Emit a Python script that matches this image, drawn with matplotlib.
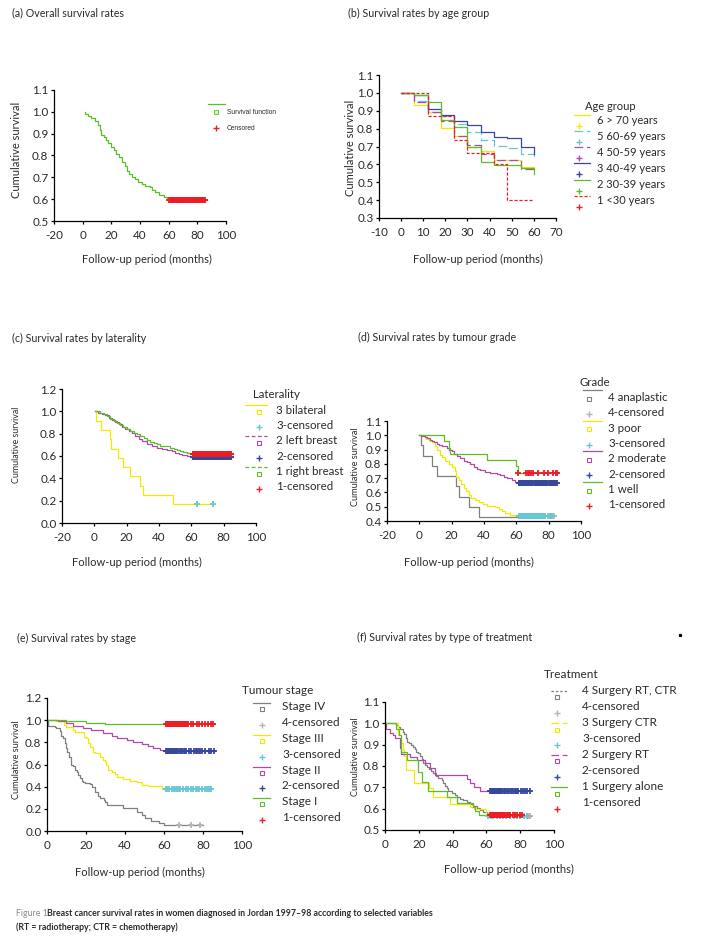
"""Breast cancer survival rates (Jordan 1997-98) - six Kaplan-Meier panels."""

import matplotlib

matplotlib.use("Agg")

import matplotlib.pyplot as plt

plt.rcParams["font.family"] = ["Lato", "DejaVu Sans"]
plt.rcParams["axes.unicode_minus"] = False

W, H = 706, 939
TXT = "#2a2a2a"

GREEN = "#5cbf2a"
RED = "#ee1c24"
YELLOW = "#f2ea00"
CYAN = "#66c6d6"
MAGENTA = "#b049a8"
BLUE = "#36489c"
GRAY = "#7f7f7f"
LGRAY = "#b4b4b4"

# (a) overall
A_T = [1.5, 1.9, 3.7, 6, 7.7, 8.8, 10.5, 12, 13, 14.6, 16.3, 18, 20, 21.6, 23, 25, 27.4, 29.3,
       31, 32.6, 34.4, 36.3, 38.6, 41.4, 43.7, 47.2, 48.4, 50.7, 53.5, 56.5, 58.8, 60]
A_S = [1.0, 0.988, 0.98, 0.974, 0.97, 0.958, 0.94, 0.915, 0.895, 0.885, 0.872, 0.857, 0.838, 0.826,
       0.808, 0.792, 0.772, 0.754, 0.731, 0.715, 0.70, 0.692, 0.68, 0.669, 0.662, 0.657, 0.643,
       0.631, 0.62, 0.611, 0.603, 0.597]
A_CENS = [60.5, 61.0, 61.5, 62.0, 62.5, 63.0, 63.5, 64.0, 64.5, 65.0, 65.5, 66.0, 66.5, 67.0, 67.5,
          68.0, 68.5, 69.0, 69.5, 70.0, 70.5, 71.0, 71.5, 72.0, 72.5, 73.0, 73.5, 74.0, 74.5, 75.0,
          75.5, 76.0, 76.5, 77.0, 77.5, 78.0, 78.5, 79.0, 79.5, 80.0, 80.5, 81.0, 81.5, 82.0, 82.5,
          83.0, 83.5, 84.0, 84.5, 85.0]

# (b) age group, life-table intervals
B_T = [0, 6, 12, 18, 24, 30, 36, 42, 48, 54, 60]
B_70 = [1.0, 0.933, 0.893, 0.805, 0.76, 0.70, 0.675, 0.625, 0.625, 0.585, 0.58]
B_60 = [1.0, 0.955, 0.893, 0.87, 0.828, 0.783, 0.735, 0.705, 0.69, 0.66, 0.625]
B_50 = [1.0, 0.95, 0.895, 0.84, 0.76, 0.71, 0.66, 0.622, 0.622, 0.573, 0.56]
B_40 = [1.0, 0.99, 0.91, 0.875, 0.845, 0.82, 0.78, 0.755, 0.745, 0.70, 0.66]
B_30 = [1.0, 0.99, 0.95, 0.85, 0.81, 0.695, 0.615, 0.595, 0.595, 0.58, 0.545]
B_U30 = [1.0, 1.0, 0.87, 0.87, 0.735, 0.665, 0.665, 0.6, 0.4, 0.4, 0.4]
B_LABELS = ["6 > 70 years", "5 60-69 years", "4 50-59 years", "3 40-49 years",
            "2 30-39 years", "1 <30 years"]

# (c) laterality
C3_T = [0.8, 1.0, 3.9, 9.5, 10.5, 14.6, 17.5, 21.9, 28.5, 30.1, 48.5]
C3_S = [1.0, 0.917, 0.833, 0.75, 0.667, 0.583, 0.5, 0.417, 0.333, 0.25, 0.167]
C3_CENS = [63.3, 73.6]
C2_T = [0.6, 2.1, 4.7, 6.8, 8.9, 10.9, 13, 15, 17.1, 19.2, 21.2, 23.3, 25.4, 27.4, 29.5, 32.6, 35.7,
        38.8, 41.9, 45, 48, 50, 52.2, 54.2, 57.3, 59.4]
C2_S = [1.0, 0.985, 0.978, 0.967, 0.943, 0.92, 0.9, 0.884, 0.863, 0.845, 0.824, 0.803, 0.78, 0.755,
        0.734, 0.704, 0.69, 0.675, 0.66, 0.654, 0.645, 0.624, 0.615, 0.606, 0.603, 0.595]
C1_T = [0.6, 3.7, 5.8, 7.8, 9.9, 12, 14, 16, 18, 20.2, 22.3, 24.3, 26.4, 28.5, 30.5, 32.6, 34.6,
        36.7, 38.8, 40.8, 45, 47, 49, 51, 53.2, 55, 57.3, 59.4]
C1_S = [1.0, 0.988, 0.98, 0.958, 0.934, 0.913, 0.892, 0.875, 0.86, 0.845, 0.824, 0.81, 0.794, 0.78,
        0.764, 0.74, 0.728, 0.713, 0.704, 0.69, 0.686, 0.675, 0.666, 0.654, 0.645, 0.636, 0.63, 0.615]
C_BAND = [60.8, 61.3, 61.8, 62.3, 62.8, 63.3, 63.8, 64.3, 64.8, 65.3, 65.8, 66.3, 66.8, 67.3, 67.8,
          68.3, 68.8, 69.3, 69.8, 70.3, 70.8, 71.3, 71.8, 72.3, 72.8, 73.3, 73.8, 74.3, 74.8, 75.3,
          75.8, 76.3, 76.8, 77.3, 77.8, 78.3, 78.8, 79.3, 79.8, 80.3, 80.8, 81.3, 81.8, 82.3, 82.8,
          83.3, 83.8, 84.3, 84.8]
C_LABELS = ["3 bilateral", "3-censored", "2 left breast", "2-censored", "1 right breast", "1-censored"]

# (d) tumour grade
D4_T = [1.0, 1.05, 2.1, 7.8, 10.7, 22.5, 24.7, 30.5, 36.7]
D4_S = [1.0, 0.929, 0.857, 0.786, 0.714, 0.643, 0.571, 0.5, 0.429]
D3_T = [0, 3.3, 4.1, 5.8, 7.8, 9.5, 10.9, 12.6, 14, 16.1, 18.1, 20.2, 21.9, 22.7, 24.3, 26, 27.4,
        28.9, 30.5, 32.2, 34.2, 36.7, 39.2, 41.9, 47, 49, 51.1, 53.2, 56.3, 59.4, 60.4]
D3_S = [1.0, 0.988, 0.977, 0.963, 0.953, 0.923, 0.895, 0.865, 0.847, 0.823, 0.800, 0.777, 0.749,
        0.707, 0.684, 0.660, 0.633, 0.609, 0.581, 0.558, 0.544, 0.533, 0.521, 0.505, 0.498, 0.484,
        0.467, 0.453, 0.444, 0.435, 0.433]
D2_T = [0, 1, 3.7, 4.7, 6.8, 7.8, 8.9, 10.9, 12, 14, 17.1, 18.1, 20.2, 21.2, 23.3, 25.4, 27.4, 29.5,
        31.5, 33.6, 35.7, 37.7, 40.8, 43.9, 48, 50, 52.2, 54.2, 57.3, 59.4, 60.4]
D2_S = [1.0, 0.993, 0.988, 0.981, 0.970, 0.963, 0.953, 0.942, 0.930, 0.923, 0.912, 0.900, 0.888,
        0.872, 0.853, 0.842, 0.823, 0.812, 0.800, 0.777, 0.765, 0.756, 0.744, 0.737, 0.730, 0.721,
        0.709, 0.698, 0.686, 0.674, 0.667]
D1_T = [0, 15.3, 18.1, 19.2, 41.9, 60, 60.8]
D1_S = [1.0, 0.957, 0.913, 0.870, 0.826, 0.783, 0.739]
D1_CENS = [61.2, 66.2, 67.0, 67.6, 69.2, 70.0, 73.6, 77.1, 79.8, 82.5, 84.5, 85.2]
D2_CENS = [61.4, 61.9, 62.4, 62.9, 63.4, 63.9, 64.4, 64.9, 65.4, 65.9, 66.4, 66.9, 67.4, 67.9, 68.4,
           68.9, 69.4, 69.8, 71.2, 71.7, 72.2, 72.7, 73.2, 73.7, 74.2, 74.7, 75.2, 75.7, 76.2, 76.7,
           77.2, 77.7, 78.2, 78.7, 79.0, 80.2, 80.7, 81.2, 81.7, 82.2, 82.7, 83.2, 83.7, 84.2, 84.7,
           85.1]
D3_CENS = [61.4, 61.9, 62.4, 62.9, 63.4, 63.9, 64.4, 64.9, 65.4, 65.9, 66.4, 66.9, 67.4, 67.9, 68.4,
           68.9, 69.4, 69.9, 70.4, 70.9, 71.4, 71.9, 72.4, 72.9, 73.4, 73.9, 74.4, 74.9, 75.4, 75.9,
           76.4, 76.9, 77.4, 78.0, 79.4, 80.6, 81.2, 82.0]
D4_CENS = [83.5]
D_LABELS = ["4 anaplastic", "4-censored", "3 poor", "3-censored", "2 moderate", "2-censored",
            "1 well", "1-censored"]

# (e) stage
E4_T = [0, 0.7, 4.0, 4.8, 6.5, 7.4, 8.4, 9.3, 9.8, 10.5, 11.4, 12.2, 13.4, 14.3, 15.2, 16.0, 16.9,
        17.8, 18.6, 19.5, 22, 22.9, 24.7, 26.4, 27.2, 29, 29.8, 30.7, 38.8, 46.2, 48.8, 50.5, 53.1,
        57.4, 60]
E4_S = [1.0, 0.946, 0.94, 0.925, 0.904, 0.859, 0.835, 0.79, 0.745, 0.715, 0.67, 0.6, 0.588, 0.55,
        0.528, 0.505, 0.475, 0.45, 0.44, 0.43, 0.425, 0.4, 0.355, 0.32, 0.3, 0.28, 0.26, 0.235,
        0.205, 0.175, 0.14, 0.115, 0.09, 0.07, 0.055]
E4_CENS = [67.9, 74.1, 78.3]
E3_T = [0, 4.8, 8.7, 9.9, 13.4, 14.2, 19, 20.2, 21.1, 22, 23.7, 24.5, 27.1, 28.8, 29.7, 30.5, 31.4,
        33.1, 34.8, 35.7, 39.1, 42.5, 46, 48.5, 52, 58.8]
E3_S = [1.0, 0.991, 0.96, 0.94, 0.91, 0.889, 0.85, 0.835, 0.79, 0.754, 0.709, 0.7, 0.67, 0.64, 0.63,
        0.595, 0.55, 0.53, 0.51, 0.49, 0.468, 0.455, 0.44, 0.415, 0.405, 0.378]
E3_CENS = [60.8, 61.7, 62.6, 63.9, 65.1, 66.3, 66.9, 67.5, 68.1, 69.8, 71.2, 72.4, 74.1, 75.0,
           76.3, 77.0, 77.8, 79.4, 80.8, 82.0, 83.2, 84.2]
E2_T = [0, 5.7, 9.9, 13.4, 18.5, 22.8, 28.8, 33.1, 35.7, 40.8, 44.3, 48.5, 52, 54.5, 58, 59.7]
E2_S = [1.0, 0.991, 0.976, 0.946, 0.925, 0.908, 0.880, 0.859, 0.838, 0.817, 0.799, 0.781, 0.769,
        0.751, 0.730, 0.721]
E2_CENS = [61.0, 61.5, 62.0, 62.5, 63.0, 63.5, 64.0, 64.5, 65.0, 65.5, 66.0, 66.5, 67.3, 68.0, 68.7,
           69.4, 70.1, 70.8, 71.5, 72.6, 73.8, 75.5, 76.3, 77.1, 77.9, 78.7, 79.5, 81.2, 82.9, 84.3,
           85.4]
E1_T = [0, 9.8, 19.8, 29.5]
E1_S = [1.0, 0.99, 0.973, 0.961]
E1_CENS = [61.0, 61.5, 62.0, 62.5, 63.0, 63.5, 64.0, 64.5, 65.0, 65.5, 66.0, 66.5, 67.0, 67.5, 68.0,
           68.5, 69.0, 69.5, 70.0, 70.5, 71.0, 71.5, 72.0, 72.5, 73.8, 75.1, 76.8, 78.0, 79.4, 81.1,
           82.8, 84.0, 84.9]
E_LABELS = ["Stage IV", "4-censored", "Stage III", "3-censored", "Stage II", "2-censored",
            "Stage I", "1-censored"]

# (f) treatment
F4_T = [0, 6.7, 7.7, 9.1, 10.7, 11.3, 12.3, 13.1, 14.3, 15.6, 16.6, 17.6, 18.6, 19.6, 20.6, 21.6,
        22.6, 23.6, 24.6, 26.1, 27.5, 28.5, 30.1, 31.5, 33.5, 34.5, 35.4, 36.4, 37.4, 39.4, 41.4,
        42.4, 44.4, 46.3, 48.3, 50.3, 52.3, 54.3, 56.2, 58.2, 60.2, 61.2]
F4_S = [1.0, 0.992, 0.984, 0.972, 0.961, 0.948, 0.93, 0.914, 0.906, 0.898, 0.891, 0.878, 0.867,
        0.859, 0.847, 0.831, 0.813, 0.805, 0.797, 0.786, 0.777, 0.766, 0.753, 0.742, 0.734, 0.722,
        0.706, 0.695, 0.684, 0.675, 0.664, 0.653, 0.645, 0.641, 0.633, 0.622, 0.613, 0.603, 0.594,
        0.586, 0.575, 0.566]
F4_CENS = [84.6, 85.6]
F3_T = [0, 7.5, 9.3, 10.7, 11.5, 12.3, 17.0, 26.1, 28.5, 38.4, 50.3, 52.5, 59.8]
F3_S = [1.0, 0.945, 0.906, 0.875, 0.845, 0.781, 0.719, 0.695, 0.653, 0.62, 0.61, 0.6, 0.57]
F3_CENS = [61.2, 62.6, 64.2, 66.2, 68.1, 69.8, 71.8, 74.1, 76.1, 78.1, 80.0, 82.1, 84.0]
F2_T = [0, 0.3, 2.8, 4.8, 5.7, 9.1, 9.7, 14.7, 19, 23.6, 26.5, 29.5, 48.3, 50.2, 52.5, 56.5]
F2_S = [1.0, 0.972, 0.956, 0.945, 0.93, 0.883, 0.856, 0.84, 0.828, 0.816, 0.789, 0.758, 0.74,
        0.722, 0.703, 0.684]
F2_CENS = [62.2, 62.7, 63.2, 63.7, 64.2, 64.7, 65.2, 65.7, 66.2, 66.7, 67.2, 67.7, 68.2, 68.7, 69.2,
           70.4, 71.1, 71.8, 72.5, 73.2, 74.6, 75.3, 76.0, 76.7, 77.4, 78.1, 78.8, 80.2, 81.6, 82.9,
           84.3, 85.7]
F1_T = [0, 6.7, 8.3, 9.7, 13.0, 19.6, 21.6, 25.5, 36.4, 42.4, 52, 53.5, 55.5]
F1_S = [1.0, 0.972, 0.945, 0.867, 0.828, 0.773, 0.727, 0.683, 0.653, 0.625, 0.61, 0.59, 0.57]
F1_CENS = [62.1, 62.6, 63.1, 63.6, 64.1, 64.6, 65.1, 65.6, 66.1, 66.6, 67.1, 67.6, 68.1, 68.6, 69.1,
           69.8, 70.5, 71.2, 71.9, 72.6, 73.3, 74.0, 75.6, 77.0, 78.4, 79.8, 81.0]
F_LABELS = ["4 Surgery RT, CTR", "4-censored", "3 Surgery CTR", "3-censored", "2 Surgery RT",
            "2-censored", "1 Surgery alone", "1-censored"]


def px_axes(fig, left, top, right, bottom):
    """Axes placed with pixel edges measured from the top-left corner."""
    return fig.add_axes([left / W, 1 - bottom / H, (right - left) / W, (bottom - top) / H])


def style_axes(ax, xticks, yticks, ylim):
    ax.set_xlim(xticks[0], xticks[-1])
    ax.set_ylim(*ylim)
    ax.set_xticks(xticks)
    ax.set_yticks(yticks)
    ax.set_xticklabels([str(v) for v in xticks])
    ax.set_yticklabels([f"{v:.1f}" for v in yticks])
    for side in ("top", "right"):
        ax.spines[side].set_visible(False)
    for side in ("left", "bottom"):
        ax.spines[side].set_linewidth(0.9)
    ax.tick_params(labelsize=8.4, length=2.5, width=0.9, colors="black", labelcolor=TXT)
    ax.tick_params(axis="y", pad=1.5)
    ax.tick_params(axis="x", pad=4)
    ax.patch.set_visible(False)


def km(ax, t, s, t_end, color, ls="-"):
    ax.step(list(t) + [t_end], list(s) + [s[-1]], where="post", color=color, lw=0.9, ls=ls)


def cens(ax, t, level, color, ms=4.2):
    ax.plot(t, [level] * len(t), ls="none", marker="+", ms=ms, mew=1.3, color=color,
            clip_on=False, zorder=3)


def draw_legend(ov, title, title_xy, entries, rows, xl, xm, xt, line_dy, mark_dy, fs=8.3):
    ov.text(title_xy[0], title_xy[1], title, fontsize=fs, ha="left", va="center", color=TXT)
    for y, (label, color, kind, ls) in zip(rows, entries):
        if kind in ("curve", "line+"):
            ov.plot(xl, [y + line_dy] * 2, color=color, lw=0.9, ls=ls)
        if kind == "curve":
            ov.plot([xm], [y + mark_dy], marker="s", ms=2.6, mfc="none", mec=color, mew=0.8)
        else:
            ov.plot([xm], [y + mark_dy], marker="+", ms=4, mew=1.0, color=color)
        ov.text(xt, y, label, fontsize=fs, ha="left", va="center", color=TXT)


def main():
    fig = plt.figure(figsize=(W / 100, H / 100), dpi=100)

    # (a)
    ax = px_axes(fig, 54, 90, 226, 221)
    km(ax, A_T, A_S, 86.7, GREEN)
    cens(ax, A_CENS, A_S[-1], RED)
    style_axes(ax, [-20, 0, 20, 40, 60, 80, 100], [0.5, 0.6, 0.7, 0.8, 0.9, 1.0, 1.1], (0.5, 1.1))

    # (b)
    ax = px_axes(fig, 379, 75, 556, 218)
    km(ax, B_T, B_70, 60, YELLOW)
    km(ax, B_T, B_60, 60, CYAN, ls=(0, (7, 3)))
    km(ax, B_T, B_50, 60, MAGENTA, ls=(0, (7, 3)))
    km(ax, B_T, B_40, 60, BLUE)
    km(ax, B_T, B_30, 60, GREEN)
    km(ax, B_T, B_U30, 60, RED, ls=(0, (2.5, 1.5)))
    style_axes(ax, [-10, 0, 10, 20, 30, 40, 50, 60, 70],
               [0.3, 0.4, 0.5, 0.6, 0.7, 0.8, 0.9, 1.0, 1.1], (0.3, 1.1))

    # (c)
    ax = px_axes(fig, 62, 389, 256, 523)
    km(ax, C3_T, C3_S, 74.8, YELLOW)
    km(ax, C2_T, C2_S, 86, MAGENTA)
    km(ax, C1_T, C1_S, 85.5, GREEN)
    cens(ax, C3_CENS, C3_S[-1], CYAN)
    cens(ax, C_BAND, 0.594, BLUE)
    cens(ax, C_BAND, 0.617, RED)
    style_axes(ax, [-20, 0, 20, 40, 60, 80, 100], [0.0, 0.2, 0.4, 0.6, 0.8, 1.0, 1.2], (0, 1.2))

    # (d)
    ax = px_axes(fig, 387, 421, 581, 521)
    km(ax, D4_T, D4_S, 61, GRAY)
    km(ax, D3_T, D3_S, 84, YELLOW)
    km(ax, D2_T, D2_S, 86, MAGENTA)
    km(ax, D1_T, D1_S, 85.5, GREEN)
    cens(ax, D4_CENS, D3_S[-1], LGRAY)
    cens(ax, D3_CENS, D3_S[-1], CYAN)
    cens(ax, D2_CENS, D2_S[-1], BLUE)
    cens(ax, D1_CENS, D1_S[-1], RED)
    style_axes(ax, [-20, 0, 20, 40, 60, 80, 100], [0.4, 0.5, 0.6, 0.7, 0.8, 0.9, 1.0, 1.1],
               (0.4, 1.1))

    # (e)
    ax = px_axes(fig, 47, 698, 242, 831)
    km(ax, E4_T, E4_S, 79.8, GRAY)
    km(ax, E3_T, E3_S, 60.5, YELLOW)
    km(ax, E2_T, E2_S, 86, MAGENTA)
    km(ax, E1_T, E1_S, 86, GREEN)
    cens(ax, E4_CENS, E4_S[-1], LGRAY)
    cens(ax, E3_CENS, E3_S[-1], CYAN)
    cens(ax, E2_CENS, E2_S[-1], BLUE)
    cens(ax, E1_CENS, E1_S[-1], RED)
    style_axes(ax, [0, 20, 40, 60, 80, 100], [0.0, 0.2, 0.4, 0.6, 0.8, 1.0, 1.2], (0, 1.2))

    # (f)
    ax = px_axes(fig, 385, 702, 554, 830)
    km(ax, F4_T, F4_S, 86.3, GRAY)
    km(ax, F3_T, F3_S, 60.5, YELLOW)
    km(ax, F2_T, F2_S, 86, MAGENTA)
    km(ax, F1_T, F1_S, 61, GREEN)
    cens(ax, F4_CENS, F4_S[-1], LGRAY)
    cens(ax, F3_CENS, F4_S[-1], CYAN)
    cens(ax, F2_CENS, F2_S[-1], BLUE)
    cens(ax, F1_CENS, F1_S[-1], RED)
    style_axes(ax, [0, 20, 40, 60, 80, 100], [0.5, 0.6, 0.7, 0.8, 0.9, 1.0, 1.1], (0.5, 1.1))

    # overlay in pixel coordinates for titles, labels and legends
    ov = fig.add_axes([0, 0, 1, 1])
    ov.set_xlim(0, W)
    ov.set_ylim(H, 0)
    ov.axis("off")

    titles = [
        (12, 13, "(a) Overall survival rates"),
        (348, 13, "(b) Survival rates by age group"),
        (12, 338, "(c) Survival rates by laterality"),
        (358, 337, "(d) Survival rates by tumour grade"),
        (17, 638, "(e) Survival rates by stage"),
        (357, 637, "(f) Survival rates by type of treatment"),
    ]
    for x, y, text in titles:
        ov.text(x, y, text, fontsize=7.7, ha="left", va="center", color=TXT)

    for x, y in [(147, 259), (478, 259), (137, 562), (469, 562), (140, 872), (509, 869)]:
        ov.text(x, y, "Follow-up period (months)", fontsize=8, ha="center", va="center",
                color=TXT)
    for x, y, fs in [(17, 150, 8), (351, 148, 8), (17, 445, 6.4), (356, 467, 6.6),
                     (17, 760, 6.6), (355, 757, 6.6)]:
        ov.text(x, y, "Cumulative survival", fontsize=fs, ha="center", va="center",
                rotation=90, color=TXT)

    # (a) legend
    ov.plot([208, 225], [104, 104], color=GREEN, lw=0.9)
    ov.plot([216], [112], marker="s", ms=2.4, mfc="#d8f0c8", mec=GREEN, mew=0.6)
    ov.plot([216], [128], marker="+", ms=4, mew=1.0, color=RED)
    ov.text(227, 112, "Survival function", fontsize=4.8, ha="left", va="center",
            family="Liberation Sans", color=TXT)
    ov.text(227, 128, "Censored", fontsize=4.8, ha="left", va="center",
            family="Liberation Sans", color=TXT)

    b_entries = [(B_LABELS[0], YELLOW, "line+", "-"), (B_LABELS[1], CYAN, "line+", (0, (7, 3))),
                 (B_LABELS[2], MAGENTA, "line+", (0, (7, 3))), (B_LABELS[3], BLUE, "line+", "-"),
                 (B_LABELS[4], GREEN, "line+", "-"), (B_LABELS[5], RED, "line+", (0, (2.5, 1.5)))]
    draw_legend(ov, "Age group", (585, 106), b_entries, [120.7, 136.7, 152.7, 168.7, 185, 201],
                (574, 590), 579, 597, -5.5, 5.5, fs=8)

    c_entries = [(C_LABELS[0], YELLOW, "curve", "-"), (C_LABELS[1], CYAN, "cens", "-"),
                 (C_LABELS[2], MAGENTA, "curve", (0, (3, 2))), (C_LABELS[3], BLUE, "cens", "-"),
                 (C_LABELS[4], GREEN, "curve", (0, (3, 2))), (C_LABELS[5], RED, "cens", "-")]
    draw_legend(ov, "Laterality", (253, 395), c_entries, [410, 425.3, 440.7, 456, 471.7, 486.7],
                (245, 267), 259, 276, -4.7, 2)

    d_entries = [(D_LABELS[0], GRAY, "curve", "-"), (D_LABELS[1], LGRAY, "cens", "-"),
                 (D_LABELS[2], YELLOW, "curve", "-"), (D_LABELS[3], CYAN, "cens", "-"),
                 (D_LABELS[4], MAGENTA, "curve", "-"), (D_LABELS[5], BLUE, "cens", "-"),
                 (D_LABELS[6], GREEN, "curve", "-"), (D_LABELS[7], RED, "cens", "-")]
    draw_legend(ov, "Grade", (580, 382), d_entries,
                [397.7, 413, 428.3, 443.7, 459, 474.3, 489.7, 505], (583, 602), 589, 608, -7.7, 1)

    e_entries = [(E_LABELS[0], GRAY, "curve", "-"), (E_LABELS[1], LGRAY, "cens", "-"),
                 (E_LABELS[2], YELLOW, "curve", "-"), (E_LABELS[3], CYAN, "cens", "-"),
                 (E_LABELS[4], MAGENTA, "curve", "-"), (E_LABELS[5], BLUE, "cens", "-"),
                 (E_LABELS[6], GREEN, "curve", "-"), (E_LABELS[7], RED, "cens", "-")]
    draw_legend(ov, "Tumour stage", (242, 690), e_entries,
                [706.7, 722.3, 738, 754, 770, 785.7, 801.7, 817.7], (253, 270), 262, 282, -3.5, 2.7,
                fs=8.5)

    f_entries = [(F_LABELS[0], GRAY, "curve", (0, (2, 1.5))), (F_LABELS[1], LGRAY, "cens", "-"),
                 (F_LABELS[2], YELLOW, "curve", (0, (6, 3))), (F_LABELS[3], CYAN, "cens", "-"),
                 (F_LABELS[4], MAGENTA, "curve", (0, (6, 3))), (F_LABELS[5], BLUE, "cens", "-"),
                 (F_LABELS[6], GREEN, "curve", "-"), (F_LABELS[7], RED, "cens", "-")]
    draw_legend(ov, "Treatment", (544, 674), f_entries,
                [690.3, 706.3, 722.7, 738.3, 754.3, 770.3, 786.7, 802.3], (551, 567), 557, 582,
                0.7, 7, fs=8.5)

    # stray dot at the right of panel (f) title
    ov.plot([680], [635], marker="s", ms=1.3, color="black")

    # caption
    ov.text(16, 913, "Figure 1", fontsize=6.3, ha="left", va="center", color="#8c8c8c")
    ov.text(47, 913, "Breast cancer survival rates in women diagnosed in Jordan 1997\u201398 "
            "according to selected variables", fontsize=6.3, ha="left", va="center",
            color=TXT, weight="bold")
    ov.text(16, 927, "(RT = radiotherapy; CTR = chemotherapy)", fontsize=6.3, ha="left",
            va="center", color=TXT, weight="bold")

    fig.savefig("out.png", dpi=100)
    plt.close(fig)


if __name__ == "__main__":
    main()
